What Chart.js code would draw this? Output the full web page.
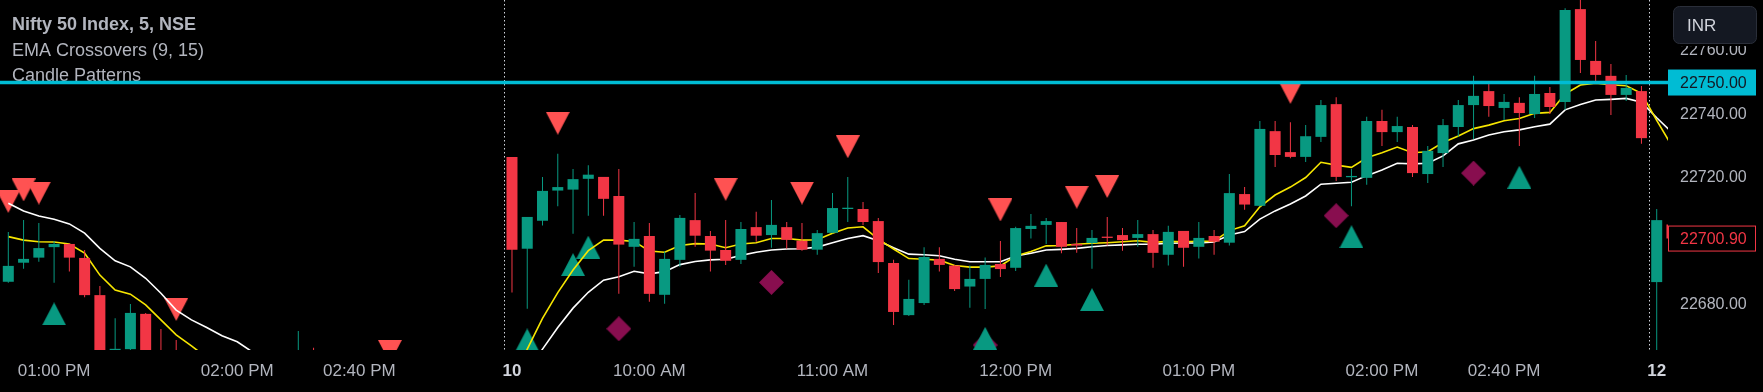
<!DOCTYPE html>
<html lang="en">
<head>
<meta charset="UTF-8">
<title>Nifty 50 Index, 5, NSE</title>
<script src="https://cdn.jsdelivr.net/npm/chart.js"></script>
<style>
  html, body { margin: 0; padding: 0; background: #000; }
  #wrap { width: 1763px; height: 392px; }
</style>
</head>
<body>
<div id="wrap"><canvas id="chart" width="1763" height="392"></canvas></div>
<script>
// 5 minute bars, index 0 = 12:45 PM of the 9th; 33 = 09:15 AM of the 10th; 108 = 09:15 AM of the 12th
const opens = [
  22687.3, 22693.3, 22694.9, 22698.2, 22699.2, 22694.8, 22683.1, 22655.0, 22666.1, 22677.2,
  22660.0, 22662.0, 22658, 22650, 22656, 22646, 22640, 22649, 22657, 22652,
  22662, 22654, 22648, 22653, 22644, 22650, 22642, 22636, 22643, 22648,
  22644, 22650, 22645,
  22726.6, 22697.7, 22706.5, 22716.0, 22716.3, 22719.7, 22720.3, 22714.3, 22698.3, 22701.7,
  22683.2, 22694.2, 22706.7, 22701.7, 22697.3, 22694.2, 22704.5, 22702.0, 22704.5, 22700.2,
  22697.4, 22702.7, 22710.2, 22710.2, 22706.4, 22693.2, 22676.8, 22680.6, 22694.5, 22692.4,
  22685.8, 22688.2, 22692.9, 22691.7, 22703.9, 22705.2, 22706.1, 22699.2, 22699.5, 22701.5,
  22702.0, 22701.1, 22702.3, 22695.8, 22703.3, 22698.3, 22701.7, 22699.6, 22714.9, 22711.2,
  22734.7, 22728.1, 22726.6, 22732.9, 22743.2, 22720.2, 22720.0, 22737.9, 22734.4, 22736.0,
  22721.2, 22727.8, 22736.0, 22742.9, 22747.3, 22742.0, 22743.6, 22740.1, 22746.7, 22743.9,
  22773.1, 22756.8, 22752.1, 22746.1, 22747.3,
  22687.2, 22705.3
];
const highs = [
  22703.0, 22706.7, 22705.8, 22700.1, 22699.4, 22697.3, 22686.0, 22675.8, 22680.3, 22677.5,
  22672.4, 22669.0, 22664, 22660, 22661, 22652, 22652, 22660, 22663, 22671.8,
  22666.5, 22660, 22657, 22658, 22654, 22656, 22648, 22646, 22652, 22654,
  22653, 22655, 22652,
  22726.6, 22707.7, 22720.3, 22727.6, 22722.8, 22724.0, 22720.3, 22722.8, 22706.1, 22705.8,
  22696.8, 22708.3, 22715.2, 22703.3, 22706.7, 22706.1, 22709.3, 22713.0, 22706.1, 22705.8,
  22703.6, 22715.2, 22720.3, 22712.4, 22707.4, 22694.2, 22687.9, 22698.2, 22698.2, 22692.6,
  22692.4, 22694.9, 22700.1, 22704.6, 22708.6, 22707.4, 22706.1, 22704.2, 22703.6, 22707.7,
  22704.2, 22706.7, 22703.6, 22704.9, 22703.3, 22706.1, 22703.6, 22721.2, 22717.1, 22737.9,
  22737.9, 22737.5, 22736.6, 22744.5, 22745.4, 22722.8, 22739.2, 22741.4, 22739.2, 22736.6,
  22730.0, 22738.5, 22744.5, 22752.1, 22750.2, 22746.4, 22745.4, 22752.1, 22748.6, 22773.4,
  22778.0, 22763.1, 22755.8, 22752.4, 22748.9,
  22710.2, 22707.0
];
const lows = [
  22687.0, 22691.4, 22693.6, 22687.0, 22690.5, 22682.4, 22656.0, 22650.0, 22662.0, 22658.0,
  22650.0, 22650.0, 22648, 22645, 22644, 22636, 22635, 22645, 22650, 22648,
  22650, 22645, 22643, 22641, 22640, 22638, 22632, 22630, 22640, 22641,
  22640, 22642, 22640,
  22683.9, 22678.8, 22705.0, 22711.1, 22702.4, 22708.1, 22708.1, 22683.5, 22692.0, 22681.0,
  22680.4, 22692.0, 22698.3, 22690.5, 22692.6, 22692.9, 22699.9, 22698.0, 22697.7, 22697.1,
  22695.8, 22702.6, 22706.1, 22705.2, 22690.1, 22673.7, 22676.5, 22680.0, 22690.5, 22684.4,
  22679.1, 22678.7, 22688.8, 22690.7, 22700.9, 22699.2, 22696.3, 22696.4, 22691.4, 22698.7,
  22697.1, 22698.3, 22691.7, 22692.4, 22692.0, 22694.6, 22695.8, 22698.7, 22710.0, 22711.0,
  22723.4, 22726.2, 22725.0, 22731.3, 22719.0, 22711.1, 22717.8, 22730.0, 22731.3, 22720.3,
  22718.4, 22723.4, 22732.9, 22732.2, 22739.2, 22738.2, 22730.0, 22738.8, 22740.1, 22741.4,
  22753.0, 22749.8, 22739.8, 22744.2, 22730.7,
  22650.0, 22698.0
];
const closes = [
  22692.3, 22694.5, 22697.9, 22699.2, 22694.9, 22683.1, 22660.0, 22666.2, 22677.5, 22662.0,
  22655.0, 22658.0, 22650, 22656, 22646, 22640, 22649, 22657, 22652, 22662,
  22654, 22648, 22653, 22644, 22650, 22642, 22636, 22643, 22648, 22644,
  22650, 22645, 22648,
  22697.4, 22707.7, 22715.9, 22717.1, 22719.6, 22721.0, 22713.4, 22699.0, 22700.8, 22683.5,
  22694.5, 22707.4, 22701.8, 22697.1, 22693.9, 22703.9, 22701.8, 22705.2, 22700.5, 22697.4,
  22702.6, 22710.5, 22710.6, 22706.1, 22693.5, 22677.8, 22681.9, 22695.1, 22692.6, 22685.0,
  22688.2, 22692.6, 22691.3, 22704.2, 22704.9, 22706.4, 22698.3, 22698.7, 22701.1, 22701.1,
  22700.4, 22702.3, 22696.4, 22703.0, 22698.0, 22701.1, 22699.9, 22715.2, 22711.6, 22735.4,
  22727.2, 22726.6, 22733.1, 22742.9, 22720.3, 22720.6, 22737.9, 22734.4, 22736.3, 22721.5,
  22728.5, 22736.6, 22742.9, 22745.8, 22742.6, 22743.9, 22740.4, 22746.4, 22742.3, 22772.8,
  22757.1, 22752.4, 22746.1, 22748.3, 22732.5,
  22706.7, 22700.9
];
// EMA Crossovers (9, 15)
const ema9 = [
  22701.5, 22700.4, 22699.9, 22699.8, 22699.2, 22696.3, 22689.4, 22684.7, 22683.4, 22680.0,
  22675.3, 22670.6, 22667.1, 22663.5, 22660.5, 22658.0, 22656.5, 22655.0, 22654.5, 22655.5,
  22656.0, 22655.0, 22653.5, 22652.0, 22650.5, 22649.5, 22648.5, 22647.5, 22647.0, 22646.5,
  22646.0, 22645.5, 22645.3,
  22655.6, 22666.1, 22675.8, 22683.9, 22691.0, 22697.1, 22700.4, 22700.4, 22700.0, 22697.0,
  22696.6, 22698.7, 22699.3, 22699.2, 22698.0, 22699.2, 22699.6, 22700.9, 22700.9, 22700.4,
  22700.5, 22702.6, 22704.2, 22704.6, 22700.7, 22697.6, 22694.6, 22694.4, 22694.1, 22692.4,
  22691.9, 22691.9, 22692.3, 22695.4, 22696.8, 22698.6, 22698.7, 22699.1, 22699.4, 22699.6,
  22699.9, 22700.2, 22699.7, 22700.0, 22699.9, 22700.0, 22700.1, 22703.4, 22704.9, 22710.9,
  22714.6, 22717.1, 22720.1, 22724.9, 22724.0, 22723.3, 22726.3, 22727.9, 22729.7, 22727.9,
  22728.2, 22731.1, 22733.2, 22735.5, 22736.6, 22738.0, 22738.7, 22740.3, 22740.6, 22746.4,
  22749.2, 22749.8, 22749.3, 22749.0, 22746.6,
  22738.1, 22730.0
];
const ema15 = [
  22712.0, 22709.6, 22708.0, 22707.0, 22705.5, 22702.6, 22697.8, 22693.9, 22692.0, 22688.4,
  22683.7, 22678.4, 22675.3, 22672.9, 22670.3, 22668.4, 22665.2, 22662.5, 22660.5, 22659.5,
  22658.8, 22657.5, 22656.0, 22654.8, 22653.5, 22652.5, 22651.5, 22650.5, 22649.5, 22648.5,
  22647.5, 22646.5, 22645.5,
  22652.0, 22659.0, 22666.1, 22672.9, 22679.0, 22684.0, 22687.8, 22688.9, 22690.6, 22689.8,
  22690.5, 22692.7, 22693.7, 22694.2, 22694.4, 22695.6, 22696.6, 22697.3, 22697.6, 22697.7,
  22698.2, 22699.6, 22700.9, 22701.8, 22700.2, 22698.0, 22696.0, 22695.8, 22695.5, 22694.4,
  22693.6, 22693.6, 22693.6, 22695.4, 22696.3, 22697.3, 22697.5, 22697.8, 22698.3, 22698.7,
  22698.9, 22699.1, 22699.1, 22699.4, 22699.5, 22699.5, 22699.8, 22702.0, 22703.1, 22707.0,
  22709.6, 22711.8, 22714.3, 22718.0, 22718.3, 22718.6, 22720.7, 22722.5, 22724.6, 22724.4,
  22724.6, 22726.9, 22730.7, 22731.9, 22733.5, 22734.5, 22735.1, 22736.1, 22736.9, 22741.4,
  22743.1, 22744.5, 22744.7, 22745.0, 22743.8,
  22738.9, 22734.3
];

// Candle Patterns markers: bar index and price level
const bearIdx = [0, 1, 2, 11, 25, 36, 47, 52, 55, 65, 70, 72, 84];
const bearLvl = [22712.6, 22716.2, 22715.2, 22678.6, 22665.4, 22737.2, 22716.4, 22715.2, 22729.8, 22709.9, 22713.9, 22717.3, 22746.9];
const bullIdx = [3, 34, 37, 38, 64, 68, 71, 88, 99];
const bullLvl = [22677.2, 22669.0, 22692.7, 22698.2, 22669.5, 22689.4, 22681.7, 22701.5, 22720.2];
const crossIdx = [40, 50, 64, 87, 96];
const crossLvl = [22672.5, 22687.1, 22667.4, 22708.1, 22721.5];

const alertPrice = 22750;
const lastPrice = 22700.90;
const sessionBreaks = [32.5, 107.5];
const timeTickIdx = [3, 15, 23, 33, 42, 54, 66, 78, 90, 98, 108];
const timeTickLabels = ['01:00 PM', '02:00 PM', '02:40 PM', '10', '10:00 AM', '11:00 AM', '12:00 PM', '01:00 PM', '02:00 PM', '02:40 PM', '12'];
const priceTicks = [22680, 22700, 22720, 22740, 22760];

const UP = '#089981', DOWN = '#f23645';
const FONT = '"Liberation Sans", Arial, sans-serif';
const bars = opens.map((o, i) => i);
const candleColor = c => closes[c.dataIndex] >= opens[c.dataIndex] ? UP : DOWN;

function marker(kind, color) {
  const c = document.createElement('canvas');
  const w = kind === 'diamond' ? 25 : 24, h = kind === 'diamond' ? 25 : 23;
  c.width = w; c.height = h;
  const g = c.getContext('2d');
  g.fillStyle = color;
  g.beginPath();
  if (kind === 'down') { g.moveTo(0, 0); g.lineTo(w, 0); g.lineTo(w / 2, h); }
  else if (kind === 'up') { g.moveTo(w / 2, 0); g.lineTo(w, h); g.lineTo(0, h); }
  else { g.moveTo(w / 2, 0); g.lineTo(w, h / 2); g.lineTo(w / 2, h); g.lineTo(0, h / 2); }
  g.closePath();
  g.fill();
  return c;
}

// no label overflow padding: the plot runs edge to edge like the screenshot
function noPad(s) {
  s.paddingTop = 0; s.paddingBottom = 0; s.paddingLeft = 0; s.paddingRight = 0;
}

const overlay = {
  id: 'overlay',
  beforeDatasetsDraw(chart) {
    const ctx = chart.ctx, xs = chart.scales.x, a = chart.chartArea;
    ctx.save();
    ctx.strokeStyle = '#d1d4dc';
    ctx.lineWidth = 1;
    ctx.setLineDash([1.5, 2.5]);
    sessionBreaks.forEach(v => {
      const px = Math.round(xs.getPixelForValue(v)) + 0.5;
      ctx.beginPath(); ctx.moveTo(px, a.top); ctx.lineTo(px, a.bottom); ctx.stroke();
    });
    ctx.setLineDash([]);
    ctx.fillStyle = '#b2b5be';
    ctx.textBaseline = 'alphabetic';
    ctx.font = 'bold 18px ' + FONT;
    ctx.fillText('Nifty 50 Index, 5, NSE', 12, 30);
    ctx.font = '18px ' + FONT;
    ctx.fillText('EMA Crossovers (9, 15)', 12, 56);
    ctx.fillText('Candle Patterns', 12, 81);
    ctx.restore();
  },
  afterDraw(chart) {
    const ctx = chart.ctx, ys = chart.scales.y, a = chart.chartArea;
    const left = a.right;
    ctx.save();
    ctx.font = '16px ' + FONT;
    ctx.textBaseline = 'middle';
    // alert line label
    let py = ys.getPixelForValue(alertPrice);
    ctx.fillStyle = '#00bcd4';
    ctx.fillRect(left, py - 13, 88, 26);
    ctx.fillStyle = '#131722';
    ctx.fillText(alertPrice.toFixed(2), left + 12, py + 1);
    // last price label
    py = ys.getPixelForValue(lastPrice);
    ctx.fillStyle = '#000';
    ctx.fillRect(left, py - 13, 88, 26);
    ctx.strokeStyle = DOWN;
    ctx.lineWidth = 1;
    ctx.strokeRect(left + 0.5, py - 12.5, 87, 25);
    ctx.fillStyle = DOWN;
    ctx.fillText(lastPrice.toFixed(2), left + 12, py + 1);
    // currency button (its backdrop hides the top of the uppermost price label)
    ctx.fillStyle = '#000';
    ctx.fillRect(left, 0, chart.width - left, 46);
    ctx.beginPath();
    ctx.roundRect(1673.5, 6.5, 83, 37, 6);
    ctx.fillStyle = '#141822';
    ctx.fill();
    ctx.strokeStyle = '#2a2e39';
    ctx.stroke();
    ctx.fillStyle = '#d1d4dc';
    ctx.font = '17px ' + FONT;
    ctx.fillText('INR', 1687, 26);
    ctx.restore();
  }
};

new Chart(document.getElementById('chart'), {
  type: 'bar',
  data: {
    datasets: [
      {
        type: 'line', label: 'alert', order: 0,
        data: [{ x: -5, y: alertPrice }, { x: 115, y: alertPrice }],
        borderColor: '#00bcd4', borderWidth: 3.5, pointRadius: 0, clip: 0
      },
      {
        label: 'body', order: 1, grouped: false, barThickness: 11, minBarLength: 1,
        data: bars.map(i => ({ x: i, y: [opens[i], closes[i]] })),
        backgroundColor: candleColor, borderWidth: 0, inflateAmount: 0, clip: 0
      },
      {
        label: 'wick', order: 2, grouped: false, barThickness: 1,
        data: bars.map(i => ({ x: i, y: [lows[i], highs[i]] })),
        backgroundColor: candleColor, borderWidth: 0, inflateAmount: 0, clip: 0
      },
      {
        type: 'line', label: 'EMA 9', order: 3,
        data: bars.map(i => ({ x: i, y: ema9[i] })),
        borderColor: '#f7e600', borderWidth: 1.6, pointRadius: 0, tension: 0, clip: 0
      },
      {
        type: 'line', label: 'EMA 15', order: 4,
        data: bars.map(i => ({ x: i, y: ema15[i] })),
        borderColor: '#ffffff', borderWidth: 1.6, pointRadius: 0, tension: 0, clip: 0
      },
      {
        type: 'scatter', label: 'bullish', order: 5,
        data: bullIdx.map((i, k) => ({ x: i, y: bullLvl[k] })),
        pointStyle: marker('up', '#089981'), pointRadius: 12, clip: 0
      },
      {
        type: 'scatter', label: 'bearish', order: 5,
        data: bearIdx.map((i, k) => ({ x: i, y: bearLvl[k] })),
        pointStyle: marker('down', '#ff5252'), pointRadius: 12, clip: 0
      },
      {
        type: 'scatter', label: 'cross', order: 6,
        data: crossIdx.map((i, k) => ({ x: i, y: crossLvl[k] })),
        pointStyle: marker('diamond', '#880e4f'), pointRadius: 12, clip: 0
      }
    ]
  },
  options: {
    responsive: false,
    animation: false,
    devicePixelRatio: 1,
    events: [],
    layout: { padding: 0, autoPadding: false },
    plugins: { legend: { display: false }, tooltip: { enabled: false } },
    scales: {
      x: {
        type: 'linear', min: -0.544, max: 108.74, offset: false,
        grid: { display: false, drawTicks: false }, border: { display: false },
        afterBuildTicks: s => { s.ticks = timeTickIdx.map(v => ({ value: v })); },
        afterFit: s => { s.height = 42; noPad(s); },
        ticks: {
          autoSkip: false, maxRotation: 0, padding: 11,
          color: c => (timeTickLabels[c.index] || '').length <= 2 ? '#d1d4dc' : '#b2b5be',
          font: c => ({ family: FONT, size: 17, weight: (timeTickLabels[c.index] || '').length <= 2 ? 'bold' : 'normal' }),
          callback: (v, i) => timeTickLabels[i]
        }
      },
      y: {
        type: 'linear', position: 'right', min: 22665.83, max: 22775.97,
        grid: { display: false, drawTicks: false }, border: { display: false },
        afterBuildTicks: s => { s.ticks = priceTicks.map(v => ({ value: v })); },
        afterFit: s => { s.width = 95; noPad(s); },
        ticks: {
          padding: 12, color: '#b2b5be', font: { family: FONT, size: 16 },
          callback: v => Math.abs(v - lastPrice) < 5 ? '' : v.toFixed(2)
        }
      }
    }
  },
  plugins: [overlay]
});
</script>
</body>
</html>
